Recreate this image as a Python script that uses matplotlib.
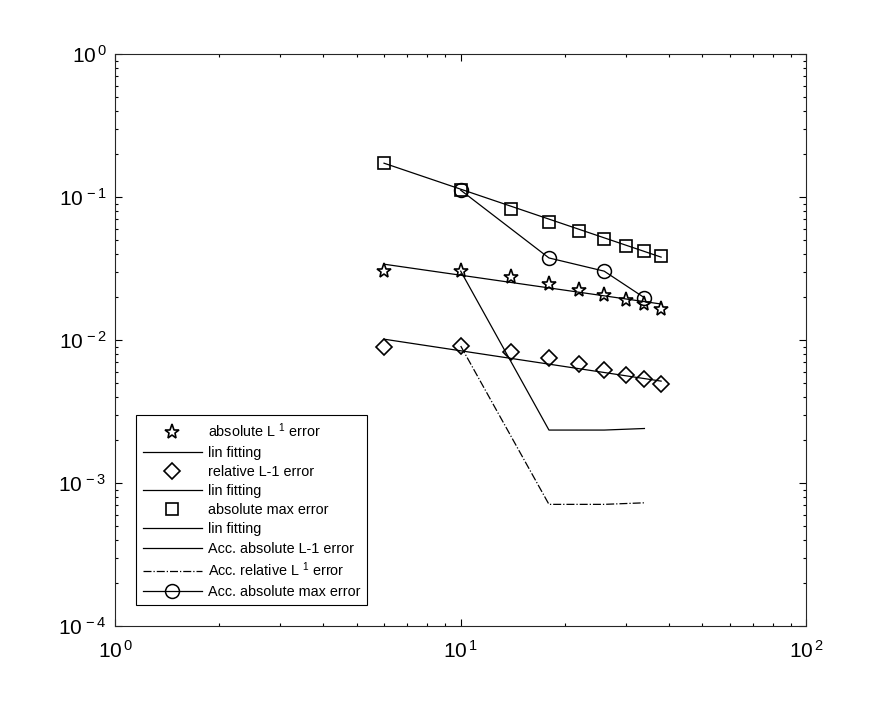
import numpy as np
import matplotlib
matplotlib.use("Agg")
import matplotlib.pyplot as plt

plt.rcParams['font.family'] = ['Liberation Sans', 'DejaVu Sans']
plt.rcParams['mathtext.fontset'] = 'custom'
plt.rcParams['mathtext.rm'] = 'Liberation Sans'
plt.rcParams['mathtext.it'] = 'Liberation Sans:italic'

# grid sizes
n = [6, 10, 14, 18, 22, 26, 30, 34, 38]
n_fit = [6, 38]
n_acc = [10, 18, 26, 34]

# errors
abs_l1 = [0.0304, 0.0304, 0.0277, 0.0246, 0.0224, 0.0206, 0.0190, 0.0179, 0.0165]
abs_l1_fit = [0.0340, 0.0179]
rel_l1 = [0.00898, 0.00912, 0.00828, 0.00745, 0.00676, 0.00617, 0.00569, 0.00531, 0.00492]
rel_l1_fit = [0.01016, 0.00517]
abs_max = [0.174, 0.112, 0.0824, 0.0672, 0.0578, 0.0508, 0.0459, 0.0419, 0.0385]
abs_max_fit = [0.173, 0.0381]
acc_abs_l1 = [0.0304, 0.00235, 0.00235, 0.00241]
acc_rel_l1 = [0.0091, 0.00071, 0.00071, 0.000728]
acc_abs_max = [0.112, 0.0376, 0.0304, 0.0198]

fig = plt.figure(figsize=(8.92, 7.05), dpi=100)
ax = fig.add_axes([0.129, 0.112, 0.775, 0.811])

mk = dict(color='k', markerfacecolor='none', markeredgecolor='k', linestyle='none')
ax.plot(n, abs_l1, marker='*', markersize=11, markeredgewidth=1.2, label='absolute L $^{1}$ error', **mk)
ax.plot(n_fit, abs_l1_fit, 'k-', lw=0.9, label='lin fitting')
ax.plot(n, rel_l1, marker='D', markersize=8, markeredgewidth=1.2, label='relative L-1 error', **mk)
ax.plot(n_fit, rel_l1_fit, 'k-', lw=0.9, label='lin fitting')
ax.plot(n, abs_max, marker='s', markersize=8, markeredgewidth=1.2, label='absolute max error', **mk)
ax.plot(n_fit, abs_max_fit, 'k-', lw=0.9, label='lin fitting')
ax.plot(n_acc, acc_abs_l1, 'k-', lw=0.9, label='Acc. absolute L-1 error')
ax.plot(n_acc, acc_rel_l1, 'k-.', lw=0.9, label='Acc. relative L $^{1}$ error')
ax.plot(n_acc, acc_abs_max, 'k-', lw=0.9, marker='o', markersize=10, markerfacecolor='none',
        markeredgewidth=1.1, label='Acc. absolute max error')

ax.set_xscale('log')
ax.set_yscale('log')
ax.set_xlim(1, 100)
ax.set_ylim(1e-4, 1)

fmt = matplotlib.ticker.FuncFormatter(lambda v, p: r'$\mathdefault{10^{\,%d}}$' % round(np.log10(v)))
ax.xaxis.set_major_formatter(fmt)
ax.yaxis.set_major_formatter(fmt)
ax.tick_params(which='both', direction='in', top=True, right=True, labelsize=15)
ax.tick_params(which='major', length=5, width=0.8)
ax.tick_params(which='minor', length=2.5, width=0.8)
ax.tick_params(axis='x', which='major', pad=10)
ax.tick_params(axis='y', which='major', pad=6)
ax.xaxis.set_minor_formatter(matplotlib.ticker.NullFormatter())
ax.yaxis.set_minor_formatter(matplotlib.ticker.NullFormatter())
for s in ax.spines.values():
    s.set_linewidth(0.8)
    s.set_color('0.15')

leg = ax.legend(loc='lower left', bbox_to_anchor=(0.0304, 0.0367), borderaxespad=0,
                fontsize=10.4, frameon=True, fancybox=False, edgecolor='k', framealpha=1,
                handlelength=4.1, labelspacing=0.36, borderpad=0.45, handletextpad=0.4)
leg.get_frame().set_linewidth(0.8)

fig.savefig('out.png', dpi=100)
